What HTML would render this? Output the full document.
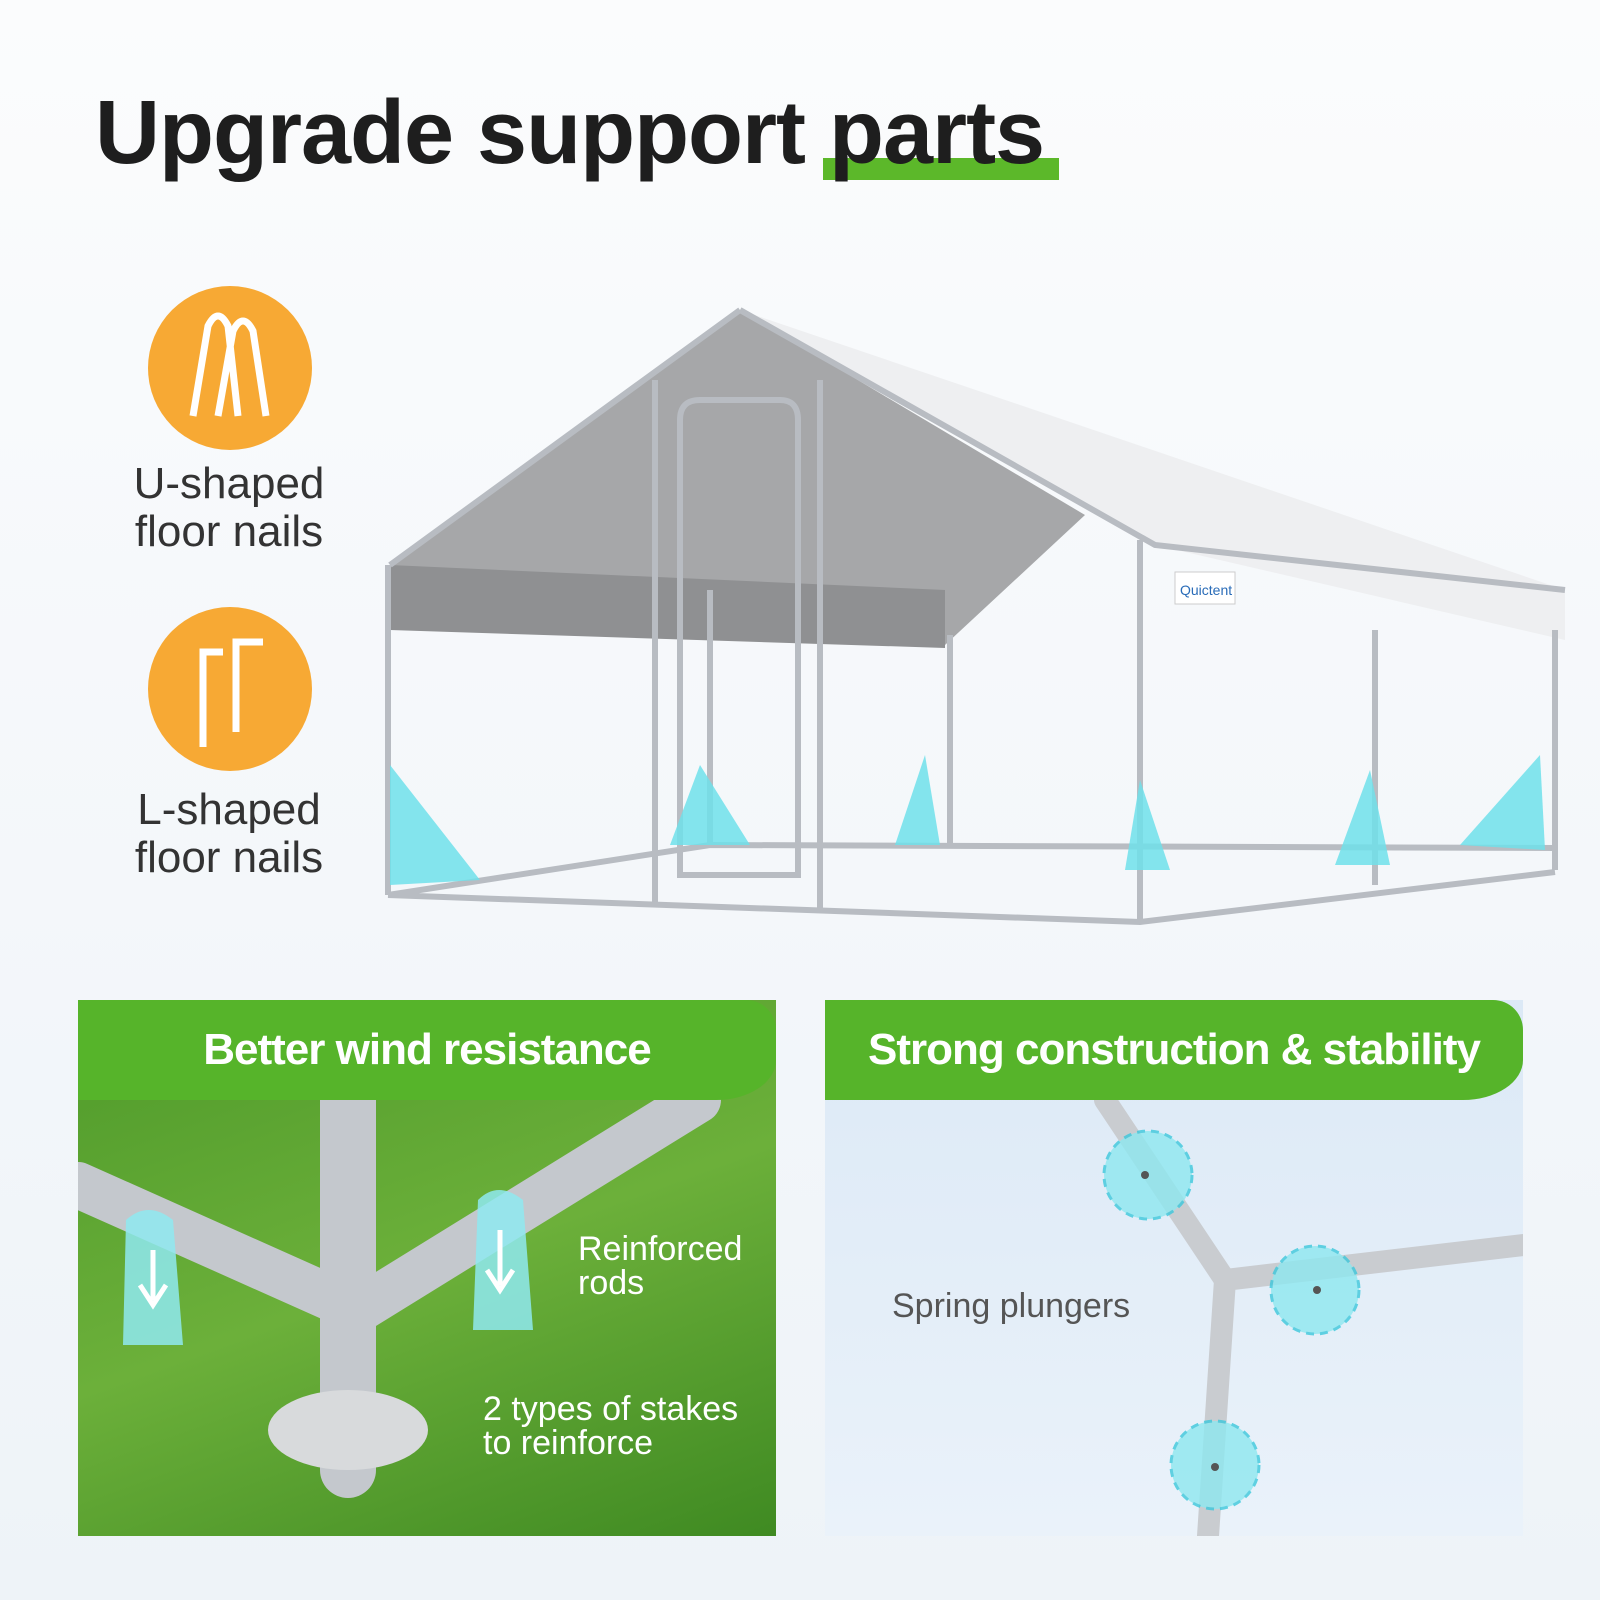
<!DOCTYPE html>
<html><head><meta charset="utf-8"><style>
body{margin:0;width:1600px;height:1600px;overflow:hidden;background:linear-gradient(#fbfcfd,#eef3f8);font-family:"Liberation Sans",sans-serif;position:relative}
.t{position:absolute;left:95px;top:82px;font-size:90px;font-weight:bold;color:#1e1e1e;letter-spacing:-1px;white-space:nowrap}
.ul{position:absolute;left:823px;top:158px;width:236px;height:22px;background:#5cb82a}
.circ{position:absolute;width:164px;height:164px;border-radius:50%;background:#f7a934}
.lab{position:absolute;width:300px;text-align:center;font-size:44px;color:#333;line-height:48px}
.panel{position:absolute;top:1000px;width:698px;height:536px;overflow:hidden}
.hdr{position:absolute;left:0;top:0;width:100%;height:100px;background:#56b42a;border-top-right-radius:30px;border-bottom-right-radius:60px 40px;color:#fff;font-weight:bold;font-size:44px;text-align:center;line-height:100px;letter-spacing:-1px}
</style></head><body>
<div class="ul"></div>
<div class="t">Upgrade support parts</div>

<div class="circ" style="left:148px;top:286px"></div>
<svg style="position:absolute;left:148px;top:286px" width="164" height="164"><path d="M45 130 L60 40 Q70 20 80 40 L90 130 M70 130 L85 45 Q95 25 105 45 L118 130" stroke="#fff" stroke-width="7" fill="none"/></svg>
<div class="lab" style="left:79px;top:460px">U-shaped<br>floor nails</div>
<div class="circ" style="left:148px;top:607px"></div>
<svg style="position:absolute;left:148px;top:607px" width="164" height="164"><path d="M55 140 L55 45 L75 45 M88 125 L88 35 L115 35" stroke="#fff" stroke-width="7" fill="none"/></svg>
<div class="lab" style="left:79px;top:786px">L-shaped<br>floor nails</div>

<svg style="position:absolute;left:380px;top:300px" width="1220" height="640">
<polygon points="360,10 1185,290 1185,340 775,245" fill="#eeeff1"/>
<polygon points="360,10 10,265 565,345 705,215" fill="#a6a7a9"/>
<polygon points="10,265 565,290 565,348 10,330" fill="#8f9092"/>
<g stroke="#b8bcc2" stroke-width="6" fill="none">
<path d="M360 10 L10 265 M360 10 L775 245 L1185 290"/>
<path d="M8 265 L8 595 M760 240 L760 622 M1175 330 L1175 570 M995 330 L995 585 M570 335 L570 545 M330 290 L330 545"/>
<path d="M8 595 L760 622 L1175 572 M8 595 L330 545 L1175 548"/>
<path d="M275 80 L275 605 M440 80 L440 610 M300 120 Q300 100 320 100 L400 100 Q418 100 418 120 L418 575 L300 575 Z"/>
</g>
<g fill="#6ee0ea" opacity=".85">
<polygon points="10,465 10,585 100,580"/><polygon points="320,465 290,545 370,545"/><polygon points="545,455 515,545 560,545"/><polygon points="760,480 745,570 790,570"/><polygon points="990,470 955,565 1010,565"/><polygon points="1160,455 1080,545 1165,550"/>
</g>
<rect x="795" y="272" width="60" height="32" fill="#fff" stroke="#ccc"/><text x="800" y="295" font-size="14" fill="#2a6cb8" font-family="Liberation Sans">Quictent</text>
</svg>

<div class="panel" style="left:78px;background:linear-gradient(160deg,#4e9a2a,#6cb03a 50%,#3f8a22)">
<svg style="position:absolute;left:0;top:0" width="698" height="536">
<g stroke="#c4c8cd" stroke-linecap="round" fill="none">
<path d="M0 185 L280 310" stroke-width="46"/><path d="M280 310 L620 100" stroke-width="46"/>
<path d="M270 80 L270 470" stroke-width="56"/></g>
<ellipse cx="270" cy="430" rx="80" ry="40" fill="#d8dadc"/>
<path d="M48 220 Q70 200 95 220 L105 345 L45 345 Z M400 200 Q420 180 445 200 L455 330 L395 330 Z" fill="#8fe9f0" opacity=".85"/>
<path d="M75 250 L75 300 M62 285 L75 305 L88 285 M422 230 L422 285 M409 270 L422 290 L435 270" stroke="#fff" stroke-width="5" fill="none"/>
</svg>
<div class="hdr">Better wind resistance</div>
<div style="position:absolute;left:500px;top:232px;color:#fff;font-size:34px;line-height:34px">Reinforced<br>rods</div>
<div style="position:absolute;left:405px;top:392px;color:#fff;font-size:34px;line-height:34px">2 types of stakes<br>to reinforce</div>
</div>

<div class="panel" style="left:825px;background:linear-gradient(#dce9f6,#eaf2fa)">
<svg style="position:absolute;left:0;top:0" width="698" height="536">
<g stroke="#c9ccd0" stroke-width="22" fill="none" stroke-linecap="round">
<path d="M280 100 L400 280 L383 536 M400 280 L698 245"/></g>
<g fill="#8ee8f0" opacity=".8" stroke="#3dc8dc" stroke-dasharray="8 6" stroke-width="3">
<circle cx="323" cy="175" r="44"/><circle cx="490" cy="290" r="44"/><circle cx="390" cy="465" r="44"/></g>
<g fill="#555"><circle cx="320" cy="175" r="4"/><circle cx="492" cy="290" r="4"/><circle cx="390" cy="467" r="4"/></g>
</svg>
<div class="hdr">Strong construction &amp; stability</div>
<div style="position:absolute;left:67px;top:287px;color:#555;font-size:34px">Spring plungers</div>
</div>
</body></html>
